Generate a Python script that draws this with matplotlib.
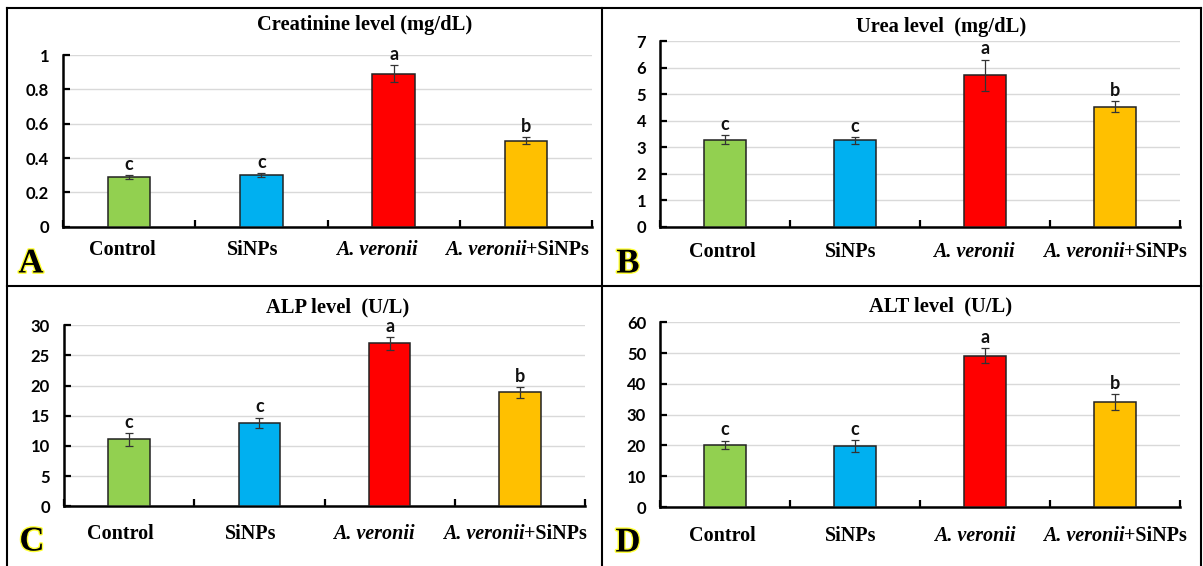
import matplotlib
matplotlib.use("Agg")
import matplotlib.pyplot as plt
import matplotlib.patheffects as pe
from matplotlib.lines import Line2D

W, H = 1203, 566

groups = ["Control", "SiNPs", "A. veronii", "A. veronii+SiNPs"]
colors = ["#92D050", "#00B0F0", "#FF0000", "#FFC000"]
letters = ["c", "c", "a", "b"]

creat_vals = [0.29, 0.30, 0.89, 0.50]
creat_err = [0.01, 0.01, 0.05, 0.02]
urea_vals = [3.28, 3.25, 5.70, 4.53]
urea_err = [0.17, 0.14, 0.60, 0.20]
alp_vals = [11.1, 13.8, 27.0, 18.9]
alp_err = [1.1, 0.9, 1.1, 0.9]
alt_vals = [20.2, 19.8, 49.2, 34.1]
alt_err = [1.4, 2.0, 2.5, 2.6]

panels = [
    dict(title="Creatinine level (mg/dL)", vals=creat_vals, err=creat_err,
         ylim=(0, 1), ticks=[0, 0.2, 0.4, 0.6, 0.8, 1.0],
         ticklabels=["0", "0.2", "0.4", "0.6", "0.8", "1"],
         box=(63, 592, 55, 226.7), title_xy=(365, 25), letter="A", letter_xy=(31, 264),
         lab_dx=[-7, -9, -17, -9], lab_dy=23.5),
    dict(title="Urea level  (mg/dL)", vals=urea_vals, err=urea_err,
         ylim=(0, 7), ticks=list(range(0, 8)),
         ticklabels=[str(i) for i in range(0, 8)],
         box=(660, 1180, 41, 226.7), title_xy=(941, 27), letter="B", letter_xy=(628, 264),
         lab_dx=[-3, -4, -11, 0], lab_dy=25.5),
    dict(title="ALP level  (U/L)", vals=alp_vals, err=alp_err,
         ylim=(0, 30), ticks=list(range(0, 31, 5)),
         ticklabels=[str(i) for i in range(0, 31, 5)],
         box=(64, 585, 325.3, 506.3), title_xy=(338, 307), letter="C", letter_xy=(32, 542),
         lab_dx=[-9, -9, -16, -5], lab_dy=28),
    dict(title="ALT level  (U/L)", vals=alt_vals, err=alt_err,
         ylim=(0, 60), ticks=list(range(0, 61, 10)),
         ticklabels=[str(i) for i in range(0, 61, 10)],
         box=(660, 1180, 322.3, 507), title_xy=(941, 306), letter="D", letter_xy=(628, 543),
         lab_dx=[-3, -4, -10, 0], lab_dy=29),
]

fig = plt.figure(figsize=(W / 100, H / 100), dpi=100)
renderer = fig.canvas.get_renderer()

def fx(px):
    return px / W

def fy(py):
    return 1 - py / H

tick_font = "Lato"
serif = "Liberation Serif"
cat_fs = 14.5

def mixed_label(cx, cy):
    t1 = fig.text(0, fy(cy), "A. veronii", ha="left", va="center", fontsize=cat_fs,
                  fontweight="bold", fontstyle="italic", family=serif)
    t2 = fig.text(0, fy(cy), "+SiNPs", ha="left", va="center", fontsize=cat_fs,
                  fontweight="bold", family=serif)
    w1 = t1.get_window_extent(renderer).width
    w2 = t2.get_window_extent(renderer).width
    start = cx - (w1 + w2) / 2
    t1.set_x(fx(start))
    t2.set_x(fx(start + w1))

for p in panels:
    x0, x1, ytop, ybot = p["box"]
    ax = fig.add_axes([fx(x0), fy(ybot), fx(x1) - fx(x0), fy(ytop) - fy(ybot)])
    xs = list(range(len(groups)))
    ax.bar(xs, p["vals"], width=0.32, color=colors, edgecolor="#222222",
           linewidth=1.1, zorder=3)
    ax.errorbar(xs, p["vals"], yerr=p["err"], fmt="none", ecolor="#333333",
                elinewidth=0.9, capsize=3, capthick=0.9, zorder=4)
    ymax = p["ylim"][1]
    for x, v, e, l in zip(xs, p["vals"], p["err"], letters):
        ax.text(x, v + e + ymax * 0.012, l, ha="center", va="bottom",
                fontsize=13, fontweight="bold", family=tick_font, color="#111111")
    ax.set_xlim(-0.5, 3.5)
    ax.set_ylim(*p["ylim"])
    ax.set_yticks(p["ticks"])
    ax.set_yticklabels(p["ticklabels"], fontsize=12, fontweight="bold", family=tick_font)
    ax.set_xticks([-0.5, 0.5, 1.5, 2.5, 3.5])
    ax.set_xticklabels([])
    ax.tick_params(axis="both", direction="in", length=5, width=1.6, color="black")
    ax.tick_params(axis="y", pad=10)
    ax.grid(axis="y", color="#d9d9d9", linewidth=1.0, zorder=0)
    ax.set_axisbelow(True)
    for s in ["top", "right"]:
        ax.spines[s].set_visible(False)
    ax.spines["left"].set_linewidth(1.8)
    ax.spines["bottom"].set_linewidth(1.8)
    # category labels
    lab_y = ybot + p["lab_dy"]
    for i, g in enumerate(groups):
        cx = x0 + (x1 - x0) * (i + 0.5) / 4 + p["lab_dx"][i]
        if g == "A. veronii+SiNPs":
            mixed_label(cx, lab_y)
        else:
            fig.text(fx(cx), fy(lab_y), g, ha="center", va="center", fontsize=cat_fs,
                     fontweight="bold", family=serif,
                     fontstyle="italic" if g == "A. veronii" else "normal")
    tx, ty = p["title_xy"]
    fig.text(fx(tx), fy(ty), p["title"], ha="center", va="center", fontsize=14.8,
             fontweight="bold", family=serif)
    lx, ly = p["letter_xy"]
    fig.text(fx(lx), fy(ly), p["letter"], ha="center", va="center", fontsize=25,
             fontweight="bold", family=serif, color="black",
             path_effects=[pe.withStroke(linewidth=2.0, foreground="#ffff33")])

# frame lines
lw = 1.5
fig.add_artist(Line2D([fx(6.5), fx(6.5)], [fy(7.5), 0], color="black", linewidth=lw))
fig.add_artist(Line2D([fx(6.5), fx(1201)], [fy(7.5), fy(7.5)], color="black", linewidth=lw))
fig.add_artist(Line2D([fx(1201), fx(1201)], [fy(7.5), 0], color="black", linewidth=lw))
fig.add_artist(Line2D([fx(602), fx(602)], [fy(7.5), 0], color="black", linewidth=lw))
fig.add_artist(Line2D([fx(6.5), fx(1201)], [fy(286), fy(286)], color="black", linewidth=lw))

fig.savefig("out.png", dpi=100)
